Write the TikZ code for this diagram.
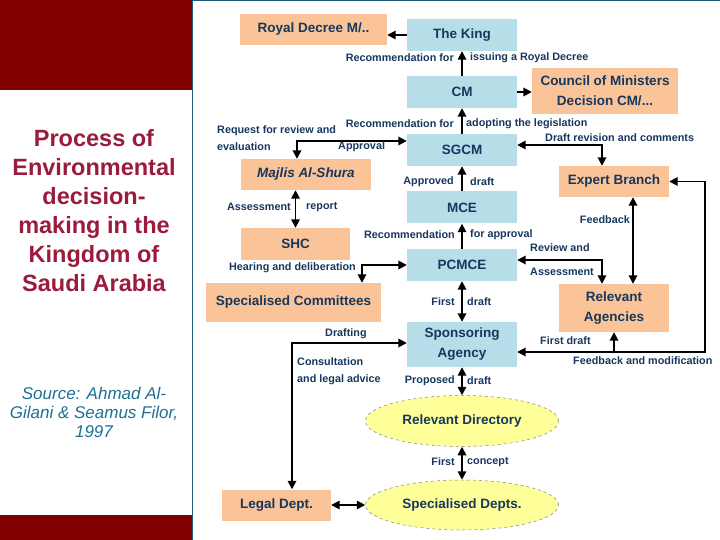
\documentclass[tikz,border=0pt]{standalone}
\usepackage{fontspec}
\setmainfont{Liberation Sans}
\usetikzlibrary{arrows.meta,shapes.geometric}
\definecolor{navy}{HTML}{17375E}
\definecolor{maroon}{HTML}{800000}
\definecolor{titlered}{HTML}{9B1B3C}
\definecolor{sourceblue}{HTML}{1F6F91}
\definecolor{frame}{HTML}{1F5C78}
\definecolor{orangefill}{HTML}{FAC498}
\definecolor{bluefill}{HTML}{B6DDE8}
\definecolor{yellowfill}{HTML}{FFFF99}

\begin{document}
\begin{tikzpicture}[
    x=1pt,
    y=-1pt,
    text=navy,
    link/.style={draw=black, line width=1.7pt, {Triangle[length=8.5pt,width=8.5pt]}-{Triangle[length=8.5pt,width=8.5pt]}},
    oneway/.style={draw=black, line width=1.7pt, -{Triangle[length=8.5pt,width=8.5pt]}},
    box/.style={
        inner sep=0pt,
        align=center,
        font=\fontsize{13.5}{20}\selectfont\bfseries
    },
    orangebox/.style={box, fill=orangefill},
    bluebox/.style={box, fill=bluefill, minimum width=110, minimum height=32},
    oval/.style={box, ellipse, fill=yellowfill, draw=gray, dashed, line width=0.5pt,
        minimum width=193, minimum height=51},
    note/.style={inner sep=0pt, font=\fontsize{10.8}{17}\selectfont\bfseries}
]
\useasboundingbox (0,0) rectangle (720,540);

% Side panel with title and source.
\fill[maroon] (0,0) rectangle (192,90);
\fill[maroon] (0,515) rectangle (192,540);
\draw[frame, line width=1.2pt] (192.5,0) -- (192.5,540);
\draw[frame, line width=1.2pt] (192.5,0.6) -- (720,0.6);
\node[align=center, text=titlered, font=\fontsize{23.5}{29}\selectfont\bfseries] (title) at (94,211)
    {Process of\\Environmental\\decision-\\making in the\\Kingdom of\\Saudi Arabia};
\node[align=center, text=sourceblue, font=\fontsize{17}{19}\selectfont\itshape] (source) at (94,412)
    {Source: Ahmad Al-\\Gilani \& Seamus Filor,\\1997};

% Central chain of bodies.
\node[bluebox] (king) at (462,35) {The King};
\node[bluebox] (cm) at (462,92) {CM};
\node[bluebox] (sgcm) at (462,150) {SGCM};
\node[bluebox] (mce) at (462,207.5) {MCE};
\node[bluebox] (pcmce) at (462,265) {PCMCE};
\node[bluebox, minimum height=45] (sponsor) at (462,344.5) {Sponsoring\\Agency};
\node[oval] (reldir) at (462,421) {Relevant Directory};
\node[oval, minimum height=50] (specdepts) at (462,505) {Specialised Depts.};

% Bodies on the left.
\node[orangebox, minimum width=147, minimum height=31] (royal) at (313.5,29.5) {Royal Decree M/..};
\node[orangebox, minimum width=130, minimum height=31, font=\fontsize{13.5}{20}\selectfont\bfseries\itshape]
    (majlis) at (306,174.5) {Majlis Al-Shura};
\node[orangebox, minimum width=109, minimum height=32] (shc) at (295.5,244) {SHC};
\node[orangebox, minimum width=175, minimum height=39] (speccom) at (293.5,302.5) {Specialised Committees};
\node[orangebox, minimum width=109, minimum height=31] (legal) at (276.5,505) {Legal Dept.};

% Bodies on the right.
\node[orangebox, minimum width=146, minimum height=46] (council) at (605,91) {Council of Ministers\\Decision CM/...};
\node[orangebox, minimum width=110, minimum height=31] (expert) at (614,181.5) {Expert Branch};
\node[orangebox, minimum width=110, minimum height=48] (relag) at (614,308) {Relevant\\Agencies};

% Upward approvals along the chain.
\draw[oneway] (king.west) -- (king.west -| royal.east);
\draw[oneway] (cm.north) -- (king.south);
\node[note, anchor=east] at (454,58) {Recommendation for};
\node[note, anchor=west] at (470,58) {issuing a Royal Decree};
\draw[oneway] (cm.east) -- (cm.east -| council.west);
\draw[oneway] (sgcm.north) -- (cm.south);
\node[note, anchor=east] at (454,124) {Recommendation for};
\node[note, anchor=west] at (466,124) {adopting the legislation};
\draw[oneway] (mce.north) -- (sgcm.south);
\node[note, anchor=east] at (454,182) {Approved};
\node[note, anchor=west] at (470,182) {draft};
\draw[oneway] (pcmce.north) -- (mce.south);
\node[note, anchor=east] at (455,235) {Recommendation};
\node[note, anchor=west] at (470,235) {for approval};
\draw[link] (sponsor.north) -- (pcmce.south);
\node[note, anchor=east] at (455,302) {First};
\node[note, anchor=west] at (467,302) {draft};
\draw[link] (reldir.north) -- (sponsor.south);
\node[note, anchor=east] at (455,381) {Proposed};
\node[note, anchor=west] at (467,381) {draft};
\draw[link] (specdepts.north) -- (reldir.south);
\node[note, anchor=east] at (455,462) {First};
\node[note, anchor=west] at (467,462) {concept};

% Shura council side.
\draw[link] ([yshift=9pt]sgcm.west) -| ([xshift=-9pt]majlis.north);
\node[note, anchor=west] at (217,131) {Request for review and};
\node[note, anchor=west] at (217,147) {evaluation};
\node[note, anchor=west] at (338,147) {Approval};
\draw[link] (majlis.south -| shc.north) -- (shc.north);
\node[note, anchor=east] at (291,207) {Assessment};
\node[note, anchor=west] at (306,207) {report};
\draw[link] (pcmce.west) -| ([xshift=68.5pt]speccom.north);
\node[note, anchor=east] at (356,268) {Hearing and deliberation};

% Legal department.
\draw[link] ([yshift=1.5pt]sponsor.west) -| ([xshift=15.5pt]legal.north);
\node[note, anchor=west] at (325,334) {Drafting};
\node[note, anchor=west, align=left] at (297,371.5) {Consultation\\and legal advice};
\draw[link] (legal.east) -- (legal.east -| specdepts.west);

% Expert branch and agencies.
\draw[link] ([yshift=5pt]sgcm.east) -| ([xshift=-12pt]expert.north);
\node[note, anchor=west] at (545,138) {Draft revision and comments};
\draw[link] ([yshift=5pt]pcmce.east) -| ([xshift=-12pt]relag.north);
\node[note, anchor=west] at (530,248) {Review and};
\node[note, anchor=west] at (530,272) {Assessment};
\coordinate (fbtop) at ([xshift=19pt]expert.south);
\draw[link] (fbtop) -- (fbtop |- relag.north);
\node[note, anchor=east] at (630,220) {Feedback};

% Feedback loop from the sponsoring agency.
\coordinate (loopstart) at ([yshift=-7.5pt]sponsor.east);
\draw[link] (loopstart) -- ++(188,0) |- (expert.east);
\draw[oneway] (loopstart -| relag.south) -- (relag.south);
\node[note, anchor=west] at (540,341) {First draft};
\node[note, anchor=west] at (573,361) {Feedback and modification};

\end{tikzpicture}
\end{document}
